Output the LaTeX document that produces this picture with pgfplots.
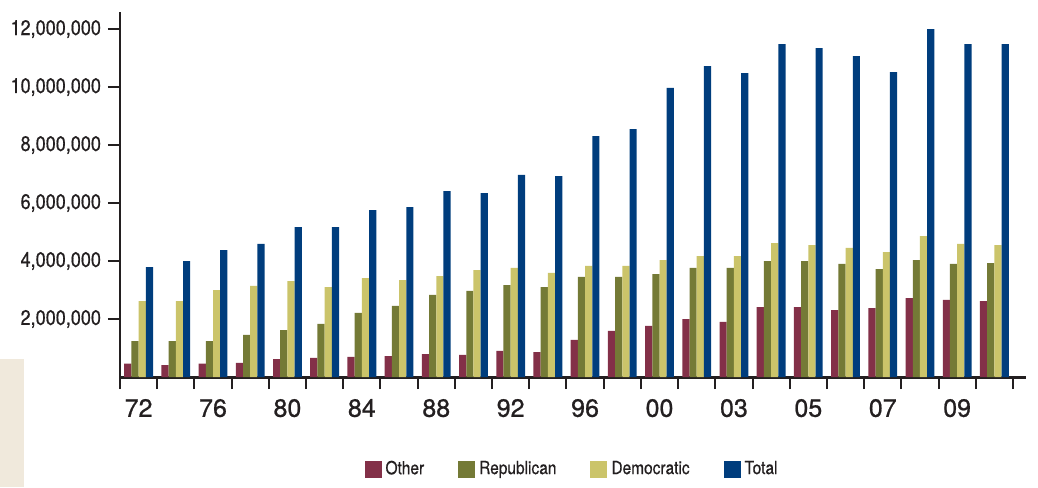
\documentclass[border=0pt]{standalone}
\usepackage{fontspec}
\setmainfont{TeX Gyre Heros}
\newfontfamily\cond{TeX Gyre Heros}[FakeStretch=0.86, FakeBold=0.6]
\newfontfamily\med{TeX Gyre Heros}[FakeBold=0.8]
\usepackage{pgfplots}
\pgfplotsset{compat=1.18}
\usepackage{pgfplotstable}

\definecolor{cother}{RGB}{131,48,72}
\definecolor{crep}{RGB}{116,122,54}
\definecolor{cdem}{RGB}{203,196,106}
\definecolor{ctotal}{RGB}{0,61,125}
\definecolor{ink}{RGB}{35,31,32}
\definecolor{beige}{RGB}{240,233,220}

% one row per year group, 72 ... 09
\pgfplotstableread{
x  other   rep     dem     total
0  460000  1240000 2620000 3790000
1  410000  1240000 2620000 4000000
2  460000  1240000 3000000 4380000
3  490000  1450000 3140000 4590000
4  620000  1620000 3310000 5170000
5  660000  1830000 3100000 5170000
6  690000  2210000 3410000 5760000
7  720000  2450000 3340000 5860000
8  790000  2830000 3480000 6410000
9  760000  2970000 3690000 6340000
10 900000  3170000 3760000 6970000
11 860000  3100000 3590000 6930000
12 1280000 3450000 3830000 8310000
13 1590000 3450000 3830000 8550000
14 1760000 3550000 4030000 9970000
15 2000000 3760000 4170000 10720000
16 1900000 3760000 4170000 10480000
17 2410000 4000000 4620000 11480000
18 2410000 4000000 4550000 11340000
19 2310000 3900000 4450000 11070000
20 2380000 3720000 4310000 10520000
21 2720000 4030000 4860000 12000000
22 2660000 3900000 4590000 11480000
23 2620000 3930000 4550000 11480000
}\votes

\pgfplotsset{sq/.style={draw=none, fill=#1,
  legend image code/.code={\fill[#1] (0pt,-4.25pt) rectangle (8.5pt,4.25pt);}}}

\begin{document}
\begin{tikzpicture}
\begin{axis}[
    scale only axis,
    width=453pt, height=182.5pt,
    xmin=-0.5, xmax=23.85,
    ymin=0, ymax=12590000,
    enlargelimits=false,
    axis lines*=left,
    x axis line style={line width=1.5pt, ink},
    y axis line style={line width=1pt, ink},
    ybar=0pt, bar width=3.6pt,
    xtick={-0.5,0.5,...,23.5},
    xticklabels={72,,76,,80,,84,,88,,92,,96,,00,,03,,05,,07,,09,,},
    xticklabel style={xshift=9.3pt, yshift=-1.5pt, font=\med\fontsize{12.5}{14}\selectfont, text=ink},
    ytick={2000000,4000000,6000000,8000000,10000000,12000000},
    scaled y ticks=false,
    yticklabel style={font=\cond\fontsize{10.5}{12}\selectfont, text=ink,
      /pgf/number format/.cd, fixed, precision=0, 1000 sep={,}, assume math mode=true},
    tick align=outside,
    major tick length=6pt,
    xtick style={line width=1pt, ink},
    ytick style={line width=1pt, ink},
    legend columns=4,
    legend style={at={(0.5,0)}, anchor=center, yshift=-46pt, draw=none,
      font=\cond\fontsize{9}{10}\selectfont, text=ink,
      /tikz/every even column/.append style={column sep=15pt}},
]
\addplot[sq=cother] table[x=x, y=other] {\votes};
\addlegendentry{Other}
\addplot[sq=crep] table[x=x, y=rep] {\votes};
\addlegendentry{Republican}
\addplot[sq=cdem] table[x=x, y=dem] {\votes};
\addlegendentry{Democratic}
\addplot[sq=ctotal] table[x=x, y=total] {\votes};
\addlegendentry{Total}
\coordinate (o) at (rel axis cs:0,0);
\end{axis}
\fill[beige] ([shift={(-60pt,9pt)}]o) rectangle ([shift={(-48pt,-55pt)}]o);
\pgfresetboundingbox
\path[use as bounding box] ([shift={(-60pt,-55pt)}]o) rectangle ([shift={(459pt,188.5pt)}]o);
\end{tikzpicture}
\end{document}
